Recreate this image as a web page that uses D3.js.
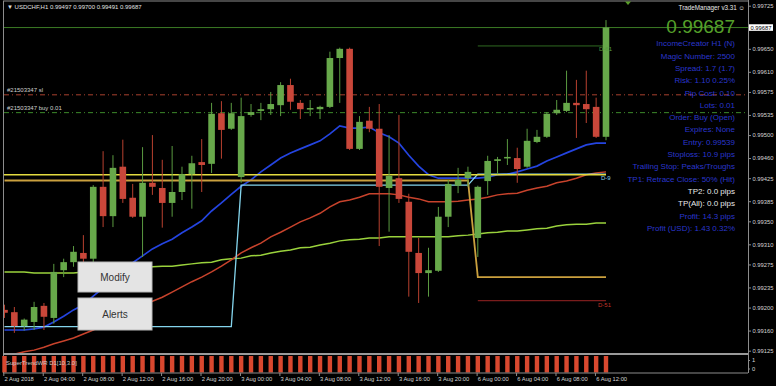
<!DOCTYPE html>
<html>
<head>
<meta charset="utf-8">
<style>
  body { margin: 0; background: #000; font-family: "Liberation Sans", Arial, sans-serif; }
  svg { display: block; }
  .axis text { fill: #d4d4d4; font-size: 5.8px; font-family: "Liberation Sans", Arial, sans-serif; }
  .axis path, .axis line { stroke: #8c8c8c; }
  .small { font-size: 6px; fill: #d0d0d0; }
  .info { font-size: 8px; text-anchor: end; }
</style>
</head>
<body>
<script src="https://d3js.org/d3.v7.min.js"></script>
<script>
// USDCHF H1, 2 Aug 2018 00:00 .. 6 Aug 2018 13:00 (62 bars)
var timeLabels = ["2 Aug 2018", "2 Aug 04:00", "2 Aug 08:00", "2 Aug 12:00", "2 Aug 16:00", "2 Aug 20:00",
  "3 Aug 00:00", "3 Aug 04:00", "3 Aug 08:00", "3 Aug 12:00", "3 Aug 16:00", "3 Aug 20:00",
  "6 Aug 00:00", "6 Aug 04:00", "6 Aug 08:00", "6 Aug 12:00"];
var labelBars = [0, 4, 8, 12, 16, 20, 24, 28, 32, 36, 40, 44, 48, 52, 56, 60];
var priceTicks = [0.99725, 0.99650, 0.99610, 0.99575, 0.99535, 0.99500, 0.99460, 0.99425,
  0.99385, 0.99350, 0.99310, 0.99275, 0.99235, 0.99200, 0.99160, 0.99125];

var open = [0.99196,0.99192,0.99168,0.99175,0.99203,0.99182,0.99265,0.99279,0.99295,0.99285,
  0.99410,0.99359,0.99445,0.99391,0.99358,0.99417,0.99408,0.99382,0.99401,0.99432,
  0.99453,0.99450,0.99538,0.99511,0.99427,0.99535,0.99542,0.99545,0.99552,0.99587,
  0.99556,0.99545,0.99545,0.99549,0.99634,0.99650,0.99476,0.99525,0.99511,0.99408,
  0.99425,0.99384,0.99295,0.99260,0.99264,0.99358,0.99412,0.99425,0.99321,0.99420,
  0.99455,0.99460,0.99460,0.99445,0.99488,0.99497,0.99538,0.99542,0.99556,0.99554,
  0.99549,0.99497];
var high = [0.99205,0.99201,0.99181,0.99210,0.99208,0.99276,0.99285,0.99307,0.99326,0.99413,
  0.99472,0.99465,0.99492,0.99415,0.99479,0.99500,0.99457,0.99481,0.99445,0.99464,
  0.99493,0.99556,0.99559,0.99556,0.99565,0.99554,0.99556,0.99575,0.99592,0.99598,
  0.99561,0.99561,0.99551,0.99645,0.99652,0.99652,0.99533,0.99549,0.99554,0.99500,
  0.99535,0.99398,0.99321,0.99304,0.99375,0.99422,0.99443,0.99445,0.99412,0.99464,
  0.99462,0.99493,0.99478,0.99511,0.99509,0.99540,0.99561,0.99612,0.99596,0.99612,
  0.99565,0.99700];
var low = [0.99182,0.99156,0.99160,0.99161,0.99161,0.99172,0.99253,0.99271,0.99278,0.99278,
  0.99340,0.99340,0.99382,0.99356,0.99288,0.99396,0.99339,0.99358,0.99387,0.99372,
  0.99401,0.99434,0.99459,0.99509,0.99417,0.99532,0.99526,0.99535,0.99533,0.99544,
  0.99528,0.99533,0.99528,0.99547,0.99556,0.99474,0.99474,0.99505,0.99307,0.99332,
  0.99382,0.99219,0.99208,0.99219,0.99262,0.99340,0.99399,0.99410,0.99288,0.99396,
  0.99432,0.99448,0.99417,0.99443,0.99486,0.99495,0.99535,0.99540,0.99495,0.99521,
  0.99495,0.99491];
var close = [0.99191,0.99168,0.99179,0.99201,0.99184,0.99262,0.99279,0.99297,0.99285,0.99410,
  0.99359,0.99443,0.99389,0.99358,0.99417,0.99410,0.99382,0.99401,0.99432,0.99451,
  0.99448,0.99537,0.99509,0.99538,0.99533,0.99540,0.99545,0.99554,0.99587,0.99558,
  0.99545,0.99547,0.99549,0.99634,0.99650,0.99476,0.99523,0.99511,0.99410,0.99429,
  0.99389,0.99297,0.99260,0.99265,0.99358,0.99415,0.99422,0.99436,0.99410,0.99455,
  0.99458,0.99462,0.99441,0.99490,0.99497,0.99537,0.99544,0.99556,0.99552,0.99545,
  0.99497,0.99687];

var maFast = [0.99161,0.99161,0.99161,0.99163,0.99166,0.99175,0.99185,0.99196,0.99205,0.99220,
  0.99234,0.99248,0.99264,0.99278,0.99290,0.99302,0.99311,0.99319,0.99330,0.99340,
  0.99351,0.99368,0.99382,0.99397,0.99411,0.99422,0.99436,0.99448,0.99460,0.99469,
  0.99476,0.99483,0.99490,0.99502,0.99516,0.99512,0.99512,0.99514,0.99504,0.99497,
  0.99486,0.99465,0.99446,0.99431,0.99425,0.99425,0.99425,0.99425,0.99425,0.99427,
  0.99431,0.99432,0.99436,0.99441,0.99446,0.99455,0.99462,0.99469,0.99476,0.99483,
  0.99486,0.99486];
var maMid = [0.99116,0.99119,0.99123,0.99126,0.99131,0.99137,0.99142,0.99147,0.99154,0.99161,
  0.99170,0.99178,0.99187,0.99196,0.99205,0.99211,0.99218,0.99227,0.99236,0.99245,
  0.99253,0.99262,0.99272,0.99283,0.99295,0.99304,0.99312,0.99323,0.99331,0.99340,
  0.99349,0.99356,0.99364,0.99375,0.99384,0.99387,0.99392,0.99398,0.99398,0.99398,
  0.99396,0.99392,0.99389,0.99384,0.99384,0.99384,0.99385,0.99387,0.99389,0.99392,
  0.99396,0.99398,0.99399,0.99404,0.99408,0.99411,0.99417,0.99420,0.99425,0.99431,
  0.99434,0.99436];
var maSlow = [0.99262,0.99262,0.99262,0.99260,0.99260,0.99260,0.99260,0.99260,0.99262,0.99262,
  0.99264,0.99265,0.99267,0.99269,0.99269,0.99271,0.99272,0.99272,0.99274,0.99276,
  0.99278,0.99279,0.99283,0.99285,0.99286,0.99290,0.99291,0.99295,0.99298,0.99300,
  0.99304,0.99305,0.99309,0.99312,0.99316,0.99318,0.99319,0.99321,0.99321,0.99323,
  0.99323,0.99323,0.99323,0.99323,0.99323,0.99323,0.99325,0.99326,0.99328,0.99330,
  0.99331,0.99333,0.99333,0.99335,0.99337,0.99338,0.99342,0.99344,0.99345,0.99345,
  0.99347,0.99347];
var trailStop = [0.99167,0.99167,0.99167,0.99167,0.99167,0.99167,0.99167,0.99167,0.99167,0.99167,
  0.99167,0.99167,0.99167,0.99167,0.99167,0.99167,0.99167,0.99167,0.99167,0.99167,
  0.99167,0.99167,0.99167,0.99167,0.99413,0.99413,0.99413,0.99413,0.99413,0.99413,
  0.99413,0.99413,0.99413,0.99413,0.99413,0.99413,0.99413,0.99413,0.99413,0.99413,
  0.99413,0.99413,0.99413,0.99413,0.99413,0.99413,0.99413,0.99413,0.99432,0.99432,
  0.99432,0.99432,0.99432,0.99432,0.99432,0.99432,0.99432,0.99432,0.99432,0.99432,
  0.99432,0.99432];
var exitLevel = [0.99421,0.99421,0.99421,0.99421,0.99421,0.99421,0.99421,0.99421,0.99421,0.99421,
  0.99421,0.99421,0.99421,0.99421,0.99421,0.99421,0.99421,0.99421,0.99421,0.99421,
  0.99421,0.99421,0.99421,0.99421,0.99421,0.99421,0.99421,0.99421,0.99421,0.99421,
  0.99421,0.99421,0.99421,0.99421,0.99421,0.99421,0.99421,0.99421,0.99421,0.99421,
  0.99421,0.99421,0.99421,0.99421,0.99421,0.99421,0.99421,0.99421,0.99253,0.99253,
  0.99253,0.99253,0.99253,0.99253,0.99253,0.99253,0.99253,0.99253,0.99253,0.99253,
  0.99253,0.99253];
var superTrend = [1,1,1,1,1,1,1,1,1,1, 1,1,1,1,1,1,1,1,1,1, 1,1,1,1,1,1,1,1,1,1,
  1,1,1,1,1,1,1,1,1,1, 1,1,1,1,1,1,1,1,1,1, 1,1,1,1,1,1,1,1,1,1, 1,1];

var bidPrice = 0.99687, slPrice = 0.99570, entryPrice = 0.99539, levelD9 = 0.99431;
var levelD51 = 0.99212, levelD61 = 0.99655;
var infoLines = ["IncomeCreator H1 (N)", "Magic Number: 2500", "Spread: 1.7 (1.7)", "Risk: 1.10 0.25%",
  "Pip Cost: 0.10", "Lots: 0.01", "Order: Buy (Open)", "Expires: None", "Entry: 0.99539",
  "Stoploss: 10.9 pips", "Trailing Stop: Peaks/Troughs", "TP1: Retrace Close: 50% (Hit)",
  "TP2: 0.0 pips", "TP(All): 0.0 pips", "Profit: 14.3 pips", "Profit (USD): 1.43 0.32%"];

var W = 776, H = 386;
var svg = d3.select("body").append("svg").attr("width", W).attr("height", H);
svg.append("rect").attr("width", W).attr("height", H).attr("fill", "#000");

var x = d3.scaleLinear().domain([0, 61]).range([4.5, 606]);
var y = d3.scaleLinear().domain([0.99125, 0.99725]).range([350.7, 5.7]);
var ySub = d3.scaleLinear().domain([0, 1]).range([372.5, 356]);

svg.append("clipPath").attr("id", "main").append("rect")
  .attr("x", 4).attr("y", 2).attr("width", 744).attr("height", 351);
var g = svg.append("g").attr("clip-path", "url(#main)");

var idx = d3.range(open.length);
var line = function (arr) {
  return d3.line().x(function (i) { return x(i); }).y(function (i) { return y(arr[i]); })(idx);
};

// full width price lines
g.append("line").attr("x1", 4).attr("x2", 748).attr("y1", y(bidPrice)).attr("y2", y(bidPrice))
  .attr("stroke", "#3b7a24").attr("stroke-width", 1);
g.append("line").attr("x1", 4).attr("x2", 748).attr("y1", y(slPrice)).attr("y2", y(slPrice))
  .attr("stroke", "#a8402e").attr("stroke-dasharray", "5,3,1,3");
g.append("line").attr("x1", 4).attr("x2", 748).attr("y1", y(entryPrice)).attr("y2", y(entryPrice))
  .attr("stroke", "#3d8a2a").attr("stroke-dasharray", "5,3,1,3");

// trade levels
g.append("line").attr("x1", x(48)).attr("x2", x(61)).attr("y1", y(levelD61)).attr("y2", y(levelD61))
  .attr("stroke", "#2f6a20");
g.append("line").attr("x1", x(48)).attr("x2", x(61)).attr("y1", y(levelD51)).attr("y2", y(levelD51))
  .attr("stroke", "#7a1c1c").attr("stroke-width", 1.2);

// moving averages
g.append("path").attr("d", line(maSlow)).attr("fill", "none").attr("stroke", "#9ad23c").attr("stroke-width", 1.5);
g.append("path").attr("d", line(maMid)).attr("fill", "none").attr("stroke", "#c8432c").attr("stroke-width", 1.5);
g.append("path").attr("d", line(maFast)).attr("fill", "none").attr("stroke", "#2444e0").attr("stroke-width", 1.7);

// stop / exit step lines
g.append("path").attr("d", line(trailStop)).attr("fill", "none").attr("stroke", "#84d4ec").attr("stroke-width", 1.3);
g.append("path").attr("d", line(exitLevel)).attr("fill", "none").attr("stroke", "#caa03e").attr("stroke-width", 1.8);
g.append("line").attr("x1", 4).attr("x2", x(61)).attr("y1", y(levelD9)).attr("y2", y(levelD9))
  .attr("stroke", "#e4dc40").attr("stroke-width", 1.5);

// candles
var up = function (i) { return close[i] >= open[i]; };
var cg = g.append("g").selectAll("g").data(idx).join("g");
cg.append("line")
  .attr("x1", function (i) { return x(i); }).attr("x2", function (i) { return x(i); })
  .attr("y1", function (i) { return y(high[i]); }).attr("y2", function (i) { return y(low[i]); })
  .attr("stroke", function (i) { return up(i) ? "#5a9a40" : "#b8402f"; });
cg.append("rect")
  .attr("x", function (i) { return x(i) - 3.3; }).attr("width", 6.6)
  .attr("y", function (i) { return y(Math.max(open[i], close[i])); })
  .attr("height", function (i) { return Math.max(1.5, Math.abs(y(open[i]) - y(close[i]))); })
  .attr("fill", function (i) { return up(i) ? "#67a84a" : "#c9473a"; });

// line labels
svg.append("text").attr("class", "small").attr("x", 7).attr("y", y(slPrice) - 2.5).text("#21503347 sl");
svg.append("text").attr("class", "small").attr("x", 7).attr("y", y(entryPrice) - 2.5).text("#21503347 buy 0.01");
svg.append("text").attr("class", "small").attr("x", 599).attr("y", y(levelD61) + 5).attr("fill", "#5a9a40").style("fill", "#5a9a40").text("D-61");
svg.append("text").attr("class", "small").attr("x", 601).attr("y", y(levelD9) + 5.5).style("fill", "#84d4ec").text("D-9");
svg.append("text").attr("class", "small").attr("x", 598).attr("y", y(levelD51) + 6).style("fill", "#c03428").text("D-51");

// buttons
[["Modify", 262, 30], ["Alerts", 298, 32]].forEach(function (b) {
  svg.append("rect").attr("x", 78).attr("y", b[1]).attr("width", 74).attr("height", b[2])
    .attr("fill", "#e4e4e4").attr("stroke", "#b8b8b8");
  svg.append("text").attr("x", 115).attr("y", b[1] + b[2] / 2 + 3.5).attr("text-anchor", "middle")
    .attr("font-size", 10).attr("fill", "#333").text(b[0]);
});

// frame
svg.append("line").attr("x1", 3).attr("x2", 748).attr("y1", 1).attr("y2", 1).attr("stroke", "#8c8c8c");
svg.append("line").attr("x1", 3.5).attr("x2", 3.5).attr("y1", 1).attr("y2", 373).attr("stroke", "#8c8c8c");
svg.append("rect").attr("x", 3).attr("y", 353).attr("width", 745).attr("height", 2).attr("fill", "#9a9a9a");

// price axis
var ya = svg.append("g").attr("class", "axis").attr("transform", "translate(748,0)")
  .call(d3.axisRight(y).tickValues(priceTicks).tickFormat(d3.format(".5f")).tickSize(3).tickPadding(1.5).tickSizeOuter(0));
ya.select(".domain").attr("d", "M0.5,0V373");
svg.append("rect").attr("x", 749).attr("y", y(bidPrice) - 3.3).attr("width", 24).attr("height", 6.6).attr("fill", "#fff");
svg.append("text").attr("x", 761).attr("y", y(bidPrice) + 2).attr("text-anchor", "middle")
  .attr("font-size", 5.8).attr("fill", "#000").text(d3.format(".5f")(bidPrice));

// sub window (SuperTrend histogram)
svg.append("g").selectAll("rect").data(idx).join("rect")
  .attr("x", function (i) { return x(i) - 2.2; }).attr("width", 4.4)
  .attr("y", function (i) { return ySub(superTrend[i]); })
  .attr("height", function (i) { return ySub(0) - ySub(superTrend[i]); })
  .attr("fill", "#d9482f");
svg.append("text").attr("class", "small").attr("x", 6).attr("y", 364.5).style("fill", "#c8c8c8").text("SuperTrendWR D1[10,3.0]");
svg.append("line").attr("x1", 3).attr("x2", 748).attr("y1", 373).attr("y2", 373).attr("stroke", "#8c8c8c");
var ySubAxis = d3.scaleLinear().domain([0, 1]).range([368.5, 360]);
svg.append("g").attr("class", "axis").attr("transform", "translate(748,0)")
  .call(d3.axisRight(ySubAxis).tickValues([0, 1]).tickFormat(d3.format("d")).tickSize(2).tickPadding(2))
  .select(".domain").remove();

// time axis
var xa = svg.append("g").attr("class", "axis").attr("transform", "translate(0,373)")
  .call(d3.axisBottom(x).tickValues(labelBars).tickFormat(function (d, i) { return timeLabels[i]; })
    .tickSize(3).tickSizeOuter(0));
xa.select(".domain").remove();
xa.selectAll(".tick line").attr("transform", "translate(-1.2,0)");
xa.selectAll(".tick text").attr("text-anchor", "start").attr("x", -0.5).attr("dy", 0).attr("y", 8.2);

// title and trade manager panel
svg.append("text").attr("class", "small").attr("x", 7).attr("y", 9).style("fill", "#e0e0e0")
  .text("\u25BC USDCHF,H1 0.99497 0.99700 0.99491 0.99687");
svg.append("path").attr("d", "M625,1.5L631,1.5L628,5Z").attr("fill", "#5a9e2a");
svg.append("text").attr("x", 745).attr("y", 10).attr("text-anchor", "end").attr("font-size", 6.3)
  .attr("fill", "#e8e8e8").text("TradeManager v3.31 \u263A");
svg.append("text").attr("x", 735).attr("y", 33).attr("text-anchor", "end").attr("font-size", 19)
  .attr("fill", "#55a02a").text(d3.format(".5f")(bidPrice));
svg.append("g").selectAll("text").data(infoLines).join("text")
  .attr("class", "info").attr("x", 735)
  .attr("y", function (d, i) { return 46.3 + i * 12.3; })
  .attr("fill", function (d) { return d.indexOf("TP2") === 0 || d.indexOf("TP(All)") === 0 ? "#e8e8e8" : "#2a36cc"; })
  .text(function (d) { return d; });
</script>
</body>
</html>
